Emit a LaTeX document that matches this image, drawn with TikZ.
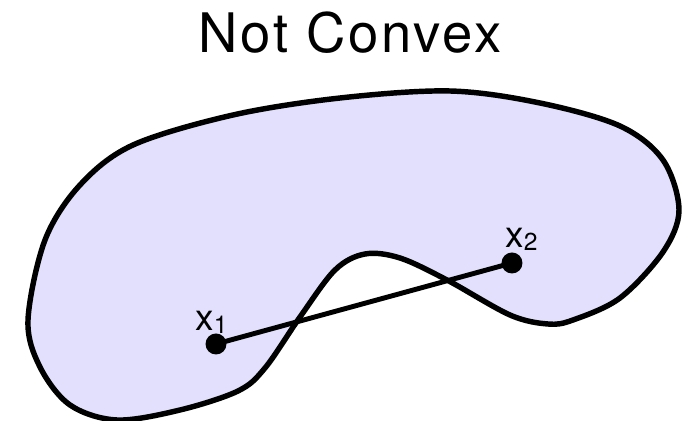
\documentclass[tikz,border=0pt]{standalone}
\usepackage{fontspec}
\setmainfont{TeX Gyre Heros}
\newfontfamily\titlefont[LetterSpace=5]{TeX Gyre Heros}
\usepackage{xcolor}
\usepackage{tikz}
\usetikzlibrary{positioning}
\definecolor{setfill}{RGB}{226,224,252}
\tikzset{
    setshape/.style={draw=black, fill=setfill, line width=3.1pt, line join=round},
    pointnode/.style={circle, fill=black, inner sep=0pt, minimum size=0.42cm},
    pointlabel/.style={font=\fontsize{21}{21}\selectfont, inner sep=0pt, anchor=base west},
    segment/.style={line width=2.8pt},
    titlenode/.style={font=\titlefont\fontsize{31}{31}\selectfont, inner sep=0pt, anchor=base}
}
\newcommand{\ptsub}[1]{\raisebox{-1.5pt}{\fontsize{14}{14}\selectfont #1}}

\begin{document}
\begin{tikzpicture}[x=0.02cm, y=-0.02cm]
    \useasboundingbox (0,0) rectangle (684,421);
    \node[titlenode] (title) at (350,53) {Not Convex};
    % the non-convex set
    \draw[setshape] plot[smooth cycle, tension=0.55] coordinates {
        (28,320) (45,240) (80,185) (133,145) (233,115) (340,98) (450,91)
        (540,103) (620,126) (663,160) (679,210) (663,252) (620,298) (573,320)
        (548,324) (510,315) (447,280) (400,258) (365,254) (335,270) (300,317)
        (265,368) (238,391) (180,410) (117,420) (70,405) (40,367)};
    \node[pointnode] (p1) at (216,344) {};
    \node[pointnode] (p2) at (512,263) {};
    \draw[segment] (p1.center) -- (p2.center);
    \node[pointlabel] (l1) at (195,331) {x\ptsub{1}};
    \node[pointlabel] (l2) at (505,248) {x\ptsub{2}};
\end{tikzpicture}
\end{document}
